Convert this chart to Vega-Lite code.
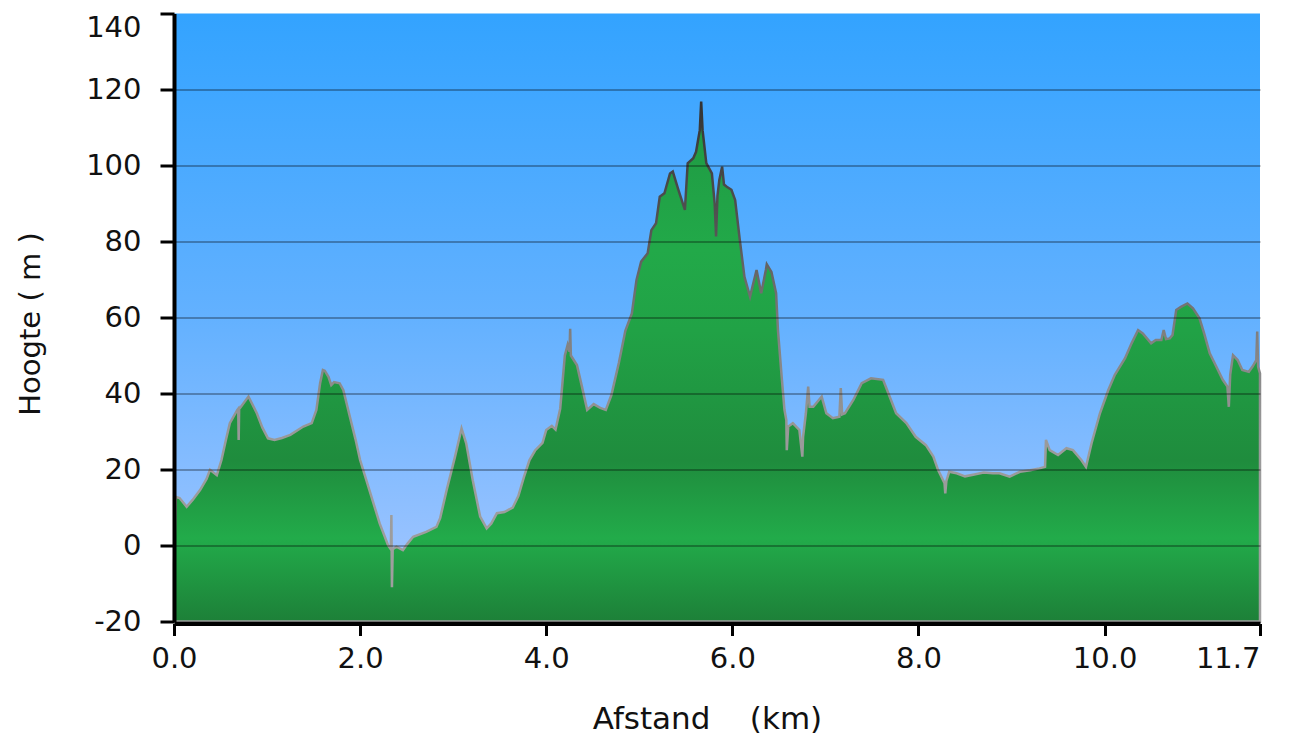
{
  "$schema": "https://vega.github.io/schema/vega-lite/v6.json",
  "width": 1086,
  "height": 608,
  "autosize": {"type": "none"},
  "padding": {"left": 174, "top": 13.5, "right": 30, "bottom": 128.5},
  "background": "#ffffff",
  "view": {
    "stroke": null,
    "fill": {"gradient": "linear", "x1": 0, "y1": 0, "x2": 0, "y2": 1,
      "stops": [
        {"offset": 0, "color": "#33a3ff"},
        {"offset": 0.5, "color": "#63b1ff"},
        {"offset": 1, "color": "#a9c8ff"}
      ]}
  },
  "data": {"values": [
    {"km": 0, "m": -5}, {"km": 0.02, "m": 12.8}, {"km": 0.06, "m": 12.5}, {"km": 0.136, "m": 10.2},
    {"km": 0.2, "m": 12.0}, {"km": 0.28, "m": 14.6}, {"km": 0.35, "m": 17.5}, {"km": 0.387, "m": 19.9},
    {"km": 0.46, "m": 18.5}, {"km": 0.51, "m": 22.5}, {"km": 0.56, "m": 28}, {"km": 0.6, "m": 32.2},
    {"km": 0.68, "m": 35.7}, {"km": 0.69, "m": 36}, {"km": 0.695, "m": 27.8}, {"km": 0.7, "m": 36.0},
    {"km": 0.71, "m": 36.2}, {"km": 0.8, "m": 39.2}, {"km": 0.89, "m": 34.8}, {"km": 0.95, "m": 31},
    {"km": 1.01, "m": 28.2}, {"km": 1.08, "m": 27.8}, {"km": 1.16, "m": 28.3}, {"km": 1.25, "m": 29.1},
    {"km": 1.39, "m": 31.3}, {"km": 1.48, "m": 32.2}, {"km": 1.53, "m": 35.7}, {"km": 1.57, "m": 42.7},
    {"km": 1.6, "m": 46.2}, {"km": 1.62, "m": 46.0}, {"km": 1.66, "m": 44.4}, {"km": 1.69, "m": 42.2},
    {"km": 1.72, "m": 43.0}, {"km": 1.78, "m": 42.7}, {"km": 1.82, "m": 40.9}, {"km": 1.89, "m": 33.9},
    {"km": 1.95, "m": 28}, {"km": 2.0, "m": 22.5}, {"km": 2.1, "m": 14.6}, {"km": 2.21, "m": 5.8},
    {"km": 2.3, "m": 0.1}, {"km": 2.33, "m": -1}, {"km": 2.336, "m": 8}, {"km": 2.342, "m": -11},
    {"km": 2.35, "m": -1}, {"km": 2.39, "m": -0.3}, {"km": 2.46, "m": -1.2}, {"km": 2.51, "m": 0.5},
    {"km": 2.57, "m": 2.3}, {"km": 2.71, "m": 3.6}, {"km": 2.82, "m": 4.9}, {"km": 2.86, "m": 7.2},
    {"km": 2.93, "m": 14.6}, {"km": 3.02, "m": 23.4}, {"km": 3.09, "m": 30.8}, {"km": 3.14, "m": 26.9},
    {"km": 3.21, "m": 17.2}, {"km": 3.29, "m": 7.6}, {"km": 3.36, "m": 4.5}, {"km": 3.41, "m": 5.8},
    {"km": 3.47, "m": 8.5}, {"km": 3.55, "m": 8.8}, {"km": 3.64, "m": 10}, {"km": 3.7, "m": 13},
    {"km": 3.76, "m": 18}, {"km": 3.82, "m": 22.5}, {"km": 3.88, "m": 25}, {"km": 3.96, "m": 27},
    {"km": 4.0, "m": 30.4}, {"km": 4.06, "m": 31.5}, {"km": 4.1, "m": 30.5}, {"km": 4.15, "m": 36},
    {"km": 4.2, "m": 50}, {"km": 4.23, "m": 52.8}, {"km": 4.25, "m": 51}, {"km": 4.257, "m": 57},
    {"km": 4.265, "m": 50}, {"km": 4.33, "m": 47.5}, {"km": 4.38, "m": 42.2}, {"km": 4.44, "m": 35.7},
    {"km": 4.51, "m": 37.2}, {"km": 4.58, "m": 36.2}, {"km": 4.64, "m": 35.7}, {"km": 4.7, "m": 39.6},
    {"km": 4.78, "m": 48}, {"km": 4.85, "m": 56.5}, {"km": 4.92, "m": 61.1}, {"km": 4.97, "m": 69.9},
    {"km": 5.02, "m": 74.7}, {"km": 5.09, "m": 76.9}, {"km": 5.13, "m": 83}, {"km": 5.18, "m": 84.8},
    {"km": 5.22, "m": 91.8}, {"km": 5.27, "m": 92.7}, {"km": 5.33, "m": 97.9}, {"km": 5.36, "m": 98.4},
    {"km": 5.42, "m": 93.6}, {"km": 5.49, "m": 88.3}, {"km": 5.52, "m": 100.6}, {"km": 5.58, "m": 101.9},
    {"km": 5.61, "m": 103.6}, {"km": 5.65, "m": 109.3}, {"km": 5.665, "m": 116.8}, {"km": 5.68, "m": 109.3},
    {"km": 5.72, "m": 100.6}, {"km": 5.78, "m": 97.9}, {"km": 5.81, "m": 90}, {"km": 5.825, "m": 81.3},
    {"km": 5.84, "m": 92}, {"km": 5.86, "m": 96.2}, {"km": 5.89, "m": 99.7}, {"km": 5.91, "m": 95},
    {"km": 5.94, "m": 94.4}, {"km": 5.99, "m": 93.6}, {"km": 6.03, "m": 90.9}, {"km": 6.08, "m": 80.4},
    {"km": 6.13, "m": 70.7}, {"km": 6.19, "m": 65.5}, {"km": 6.26, "m": 72.5}, {"km": 6.31, "m": 66.4},
    {"km": 6.36, "m": 72.5}, {"km": 6.37, "m": 74}, {"km": 6.42, "m": 72}, {"km": 6.47, "m": 66.4},
    {"km": 6.49, "m": 56.7}, {"km": 6.53, "m": 44.4}, {"km": 6.56, "m": 35.7}, {"km": 6.58, "m": 33},
    {"km": 6.585, "m": 25.1}, {"km": 6.6, "m": 31.3}, {"km": 6.65, "m": 32.2}, {"km": 6.72, "m": 30.4},
    {"km": 6.752, "m": 23.4}, {"km": 6.76, "m": 28.6}, {"km": 6.79, "m": 34.8}, {"km": 6.815, "m": 41.8},
    {"km": 6.83, "m": 36.5}, {"km": 6.87, "m": 36.5}, {"km": 6.96, "m": 39.2}, {"km": 7.01, "m": 34.8},
    {"km": 7.08, "m": 33.5}, {"km": 7.15, "m": 33.9}, {"km": 7.165, "m": 41.4}, {"km": 7.18, "m": 34.5},
    {"km": 7.21, "m": 34.8}, {"km": 7.3, "m": 38.3}, {"km": 7.39, "m": 42.7}, {"km": 7.49, "m": 44},
    {"km": 7.62, "m": 43.6}, {"km": 7.69, "m": 39.2}, {"km": 7.76, "m": 34.8}, {"km": 7.87, "m": 32.2},
    {"km": 7.97, "m": 28.6}, {"km": 8.08, "m": 26.4}, {"km": 8.16, "m": 23.4}, {"km": 8.21, "m": 19.9},
    {"km": 8.28, "m": 16.4}, {"km": 8.288, "m": 13.7}, {"km": 8.3, "m": 17}, {"km": 8.33, "m": 19.4},
    {"km": 8.41, "m": 19}, {"km": 8.5, "m": 18.2}, {"km": 8.6, "m": 18.7}, {"km": 8.7, "m": 19.2},
    {"km": 8.8, "m": 19.0}, {"km": 8.87, "m": 19}, {"km": 8.98, "m": 18.1}, {"km": 9.09, "m": 19.4},
    {"km": 9.2, "m": 19.8}, {"km": 9.3, "m": 20.3}, {"km": 9.36, "m": 20.7}, {"km": 9.37, "m": 27.8},
    {"km": 9.41, "m": 25.1}, {"km": 9.5, "m": 23.8}, {"km": 9.59, "m": 25.6}, {"km": 9.66, "m": 25.1},
    {"km": 9.75, "m": 22.5}, {"km": 9.8, "m": 20.7}, {"km": 9.86, "m": 26.9}, {"km": 9.95, "m": 34.8},
    {"km": 10.04, "m": 40.9}, {"km": 10.11, "m": 44.9}, {"km": 10.22, "m": 49.3}, {"km": 10.29, "m": 53.2},
    {"km": 10.36, "m": 56.7}, {"km": 10.41, "m": 55.8}, {"km": 10.5, "m": 53.2}, {"km": 10.55, "m": 54.1},
    {"km": 10.61, "m": 54.1}, {"km": 10.635, "m": 56.7}, {"km": 10.66, "m": 54.3}, {"km": 10.7, "m": 54.5},
    {"km": 10.73, "m": 55.4}, {"km": 10.77, "m": 62}, {"km": 10.82, "m": 62.8}, {"km": 10.89, "m": 63.7},
    {"km": 10.95, "m": 62.4}, {"km": 11.02, "m": 59.8}, {"km": 11.07, "m": 55.8}, {"km": 11.13, "m": 50.6},
    {"km": 11.2, "m": 47.1}, {"km": 11.27, "m": 43.6}, {"km": 11.32, "m": 41.8}, {"km": 11.335, "m": 36.5},
    {"km": 11.35, "m": 45}, {"km": 11.38, "m": 50.1}, {"km": 11.43, "m": 48.8}, {"km": 11.48, "m": 46.2},
    {"km": 11.55, "m": 45.7}, {"km": 11.59, "m": 47.1}, {"km": 11.63, "m": 48.8}, {"km": 11.64, "m": 56.3},
    {"km": 11.65, "m": 47}, {"km": 11.67, "m": 45.3}
  ]},
  "mark": {
    "type": "area",
    "interpolate": "linear",
    "strokeWidth": 2.5,
    "stroke": {"gradient": "linear", "x1": 0, "y1": 0, "x2": 0, "y2": 1,
      "stops": [
        {"offset": 0, "color": "#333333"},
        {"offset": 0.25, "color": "#555555"},
        {"offset": 0.45, "color": "#808080"},
        {"offset": 0.65, "color": "#9a9a9a"},
        {"offset": 1, "color": "#a0a0a0"}
      ]},
    "fill": {"gradient": "linear", "x1": 0, "y1": 0, "x2": 0, "y2": 1,
      "stops": [
        {"offset": 0, "color": "#1f9843"},
        {"offset": 0.285, "color": "#22a949"},
        {"offset": 0.44, "color": "#21a246"},
        {"offset": 0.69, "color": "#1f8c3d"},
        {"offset": 0.84, "color": "#22ab4a"},
        {"offset": 1, "color": "#1d8038"}
      ]}
  },
  "encoding": {
    "x": {
      "field": "km", "type": "quantitative",
      "scale": {"domain": [0, 11.67], "nice": false, "zero": false},
      "axis": {
        "values": [0, 2, 4, 6, 8, 10, 11.67], "format": ".1f",
        "title": "Afstand\u00a0\u00a0\u00a0\u00a0(km)", "grid": false, "zindex": 1, "offset": 2,
        "domainColor": "#000000", "domainWidth": 4,
        "tickColor": "#000000", "tickWidth": 3, "tickSize": 12,
        "labelFont": "DejaVu Sans", "labelFontSize": 29, "labelColor": "#111111", "labelPadding": 9,
        "labelDx": -7,
        "labelAlign": {"condition": {"test": "datum.value > 11", "value": "right"}, "value": "center"},
        "labelFlush": false, "labelOverlap": false,
        "titleFont": "DejaVu Sans", "titleFontSize": 31, "titleFontWeight": "normal", "titleColor": "#111111",
        "titlePadding": 31, "titleX": 533
      }
    },
    "y": {
      "field": "m", "type": "quantitative",
      "scale": {"domain": [-20, 140], "nice": false, "zero": false},
      "axis": {
        "values": [-20, 0, 20, 40, 60, 80, 100, 120, 140],
        "labelExpr": "replace(datum.label, '\u2212', '-')",
        "title": "Hoogte ( m )", "zindex": 1,
        "grid": true, "gridColor": "#000000", "gridWidth": 2,
        "gridOpacity": {"condition": {"test": "datum.value === 140", "value": 0}, "value": 0.3},
        "domainColor": "#000000", "domainWidth": 4,
        "tickColor": "#000000", "tickWidth": 3, "tickSize": 14,
        "labelFont": "DejaVu Sans", "labelFontSize": 29, "labelColor": "#111111", "labelPadding": 19,
        "labelBaseline": {"condition": {"test": "datum.value === 140", "value": "top"}, "value": "middle"},
        "labelFlush": false, "labelOverlap": false,
        "titleFont": "DejaVu Sans", "titleFontSize": 29, "titleFontWeight": "normal", "titleColor": "#111111",
        "titlePadding": 40, "titleY": 310
      }
    },
    "y2": {"datum": -20}
  }
}
